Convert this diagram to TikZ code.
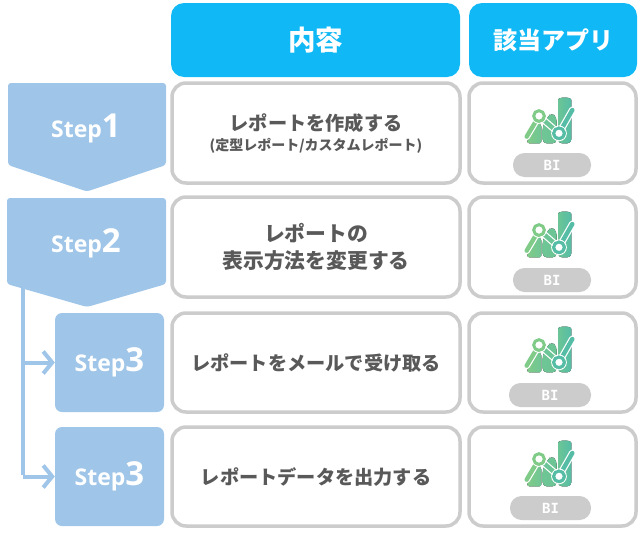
\documentclass[tikz,border=0pt]{standalone}
\usepackage{fontspec}
\setmainfont{Noto Sans CJK JP}
\newfontfamily\stepfont{Open Sans}
\newfontfamily\bifont{DejaVu Sans Mono}
\usetikzlibrary{arrows.meta}
\definecolor{headblue}{HTML}{10B9F5}
\definecolor{stepblue}{HTML}{9FC5E8}
\definecolor{boxgray}{HTML}{CCCCCC}
\definecolor{textgray}{HTML}{595959}
\definecolor{iconl}{HTML}{80CB88}
\definecolor{iconm}{HTML}{6CC596}
\definecolor{iconr}{HTML}{55BDA6}
\newcommand{\stepmark}[1]{{\stepfont\bfseries\fontsize{23}{23}\selectfont Step\fontsize{33}{33}\selectfont #1}}
\tikzset{
  head/.style={fill=headblue,rounded corners=13pt,text=white,inner sep=0pt,minimum height=74pt},
  card/.style={draw=boxgray,line width=3.5pt,fill=white,rounded corners=14pt},
  main/.style={text=textgray,align=center,font=\bfseries\fontsize{19.2}{27}\selectfont},
  sub/.style={text=textgray,font=\bfseries\fontsize{14}{16}\selectfont},
  pill/.style={fill=boxgray,rounded corners=11.5pt,text=white,inner sep=0pt,minimum height=24pt,font=\bifont\bfseries\fontsize{14}{14}\selectfont},
  stepbox/.style={fill=stepblue,rounded corners=3pt},
  stepthree/.style={fill=stepblue,text=white,rounded corners=7pt,inner sep=0pt,minimum width=109pt,minimum height=99pt},
  link/.style={draw=stepblue,line width=4pt},
  linktip/.style={-{Straight Barb[length=9pt,width=22pt,line width=4pt]}},
  pics/biicon/.style={code={
    \begin{scope}[scale=1/3]
      \fill[left color=iconl,right color=iconm!90!iconl,rounded corners=2pt]
        (172,190) -- (172,178) -- (207,128) -- (214,134) -- (214,190) -- cycle;
      \fill[left color=iconm!90!iconl,right color=iconm,rounded corners=4pt]
        (218,190) -- (218,138) -- (232,112) -- (245,98) -- (260,112) -- (260,190) -- cycle;
      \fill[left color=iconm,right color=iconr,rounded corners=4pt]
        (264,190) -- (264,72) to[out=90,in=90,looseness=1.4] (304,72) -- (304,190) -- cycle;
      \draw[white,line width=6.8pt,line cap=round] (170,170) -- (207,108) -- (267,160) -- (307,90);
      \draw[iconl,line width=4.4pt,line cap=round] (170,170) -- (207,108);
      \draw[iconm,line width=4.4pt] (207,108) -- (267,160);
      \draw[iconr,line width=4.4pt,line cap=round] (267,160) -- (307,90);
      \draw[white,line width=1pt] (207,108) circle (22);
      \draw[white,line width=1pt] (267,160) circle (22);
      \draw[iconl,line width=3pt,fill=white] (207,108) circle (16);
      \draw[iconr,line width=3pt,fill=white] (267,160) circle (16);
    \end{scope}
  }}
}
\begin{document}
\begin{tikzpicture}[x=1pt,y=-1pt]
\useasboundingbox (0,0) rectangle (643,533);
% headers
\node[head,minimum width=289pt,font=\bfseries\fontsize{27.5}{30}\selectfont] (headA) at (315.5,40) {内容};
\node[head,minimum width=168pt,font=\bfseries\fontsize{24}{30}\selectfont] (headB) at (553,40) {該当アプリ};
% step shapes
\fill[stepbox] (8,83) -- (166,83) -- (166,165) -- (87,191.5) -- (8,165) -- cycle;
\fill[stepbox] (7,198) -- (166,198) -- (166,284) -- (87,307) -- (7,284) -- cycle;
\node[text=white,inner sep=0pt] (stepA) at (86,128) {\stepmark{1}};
\node[text=white,inner sep=0pt] (stepB) at (86,243) {\stepmark{2}};
\node[stepthree] (stepC) at (109.5,362.5) {\stepmark{3}};
\node[stepthree] (stepD) at (109.5,476.5) {\stepmark{3}};
% links
\coordinate (trunk) at (23,287);
\draw[link] (trunk) -- (23,475);
\draw[link,linktip] (23,362.5) -- (stepC.west);
\draw[link,linktip] (23,476.5) -- (stepD.west);
% cards
\foreach \top/\bottom in {83/183,197/297,313/412,427/526}{
  \draw[card] (172,\top) rectangle (460,\bottom);
  \draw[card] (469,\top) rectangle (636,\bottom);
}
\node[main] (rowA) at (316,123) {レポートを作成する};
\node[sub] (rowAsub) at (316,146) {(定型レポート/カスタムレポート)};
\node[main,font=\bfseries\fontsize{20.8}{27}\selectfont] (rowB) at (316,247) {レポートの\\表示方法を変更する};
\node[main] (rowC) at (316,363) {レポートをメールで受け取る};
\node[main] (rowD) at (316,477) {レポートデータを出力する};
% app icons and pills
\pic at (470,80) {biicon};
\pic at (470,194) {biicon};
\pic at (470,309) {biicon};
\pic at (470,423) {biicon};
\foreach \name/\left/\top in {biA/513/153,biB/513/268,biC/509/383,biD/510/496}{
  \node[pill,minimum width={591pt-\left pt}] (\name) at ({(\left+591)/2},\top+12) {BI};
}
\end{tikzpicture}
\end{document}
